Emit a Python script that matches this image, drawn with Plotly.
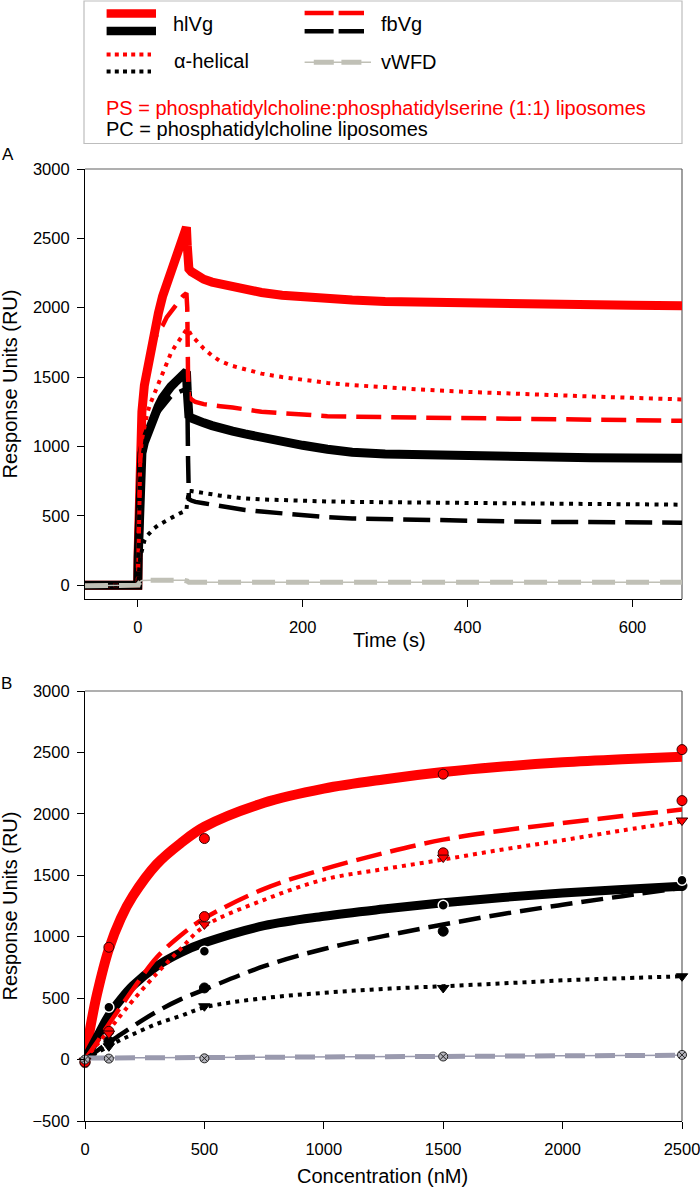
import plotly.graph_objects as go

# ---------------- Panel A : sensorgrams ----------------
time_s = [-64, -10, 0, 0.5, 1, 2, 3, 5, 8, 12, 16, 20, 25, 30, 35, 40, 45, 50, 55, 59,
          60, 61, 62, 65, 70, 80, 90, 100, 115, 130, 150, 175, 200, 230, 260, 300, 350,
          400, 450, 500, 550, 600, 660]

hlvg_ps_A = [0, 0, 0, 250, 450, 800, 1050, 1250, 1440, 1580, 1690, 1820, 1960, 2080, 2170,
             2240, 2310, 2390, 2480, 2580, 2450, 2300, 2280, 2260, 2235, 2205, 2185, 2170,
             2148, 2132, 2110, 2090, 2075, 2062, 2055, 2045, 2038, 2032, 2027, 2023, 2020,
             2017, 2014]
hlvg_pc_A = [0, 0, 0, 200, 400, 700, 850, 950, 1030, 1100, 1170, 1230, 1290, 1350, 1400,
             1430, 1460, 1490, 1515, 1540, 1400, 1240, 1220, 1205, 1190, 1170, 1150, 1130,
             1110, 1090, 1062, 1035, 1008, 980, 958, 945, 937, 930, 925, 921, 918, 916, 914]
fbvg_ps_A = [0, 0, 0, 200, 400, 700, 900, 1150, 1400, 1560, 1680, 1766, 1830, 1870, 1930,
             1970, 2010, 2050, 2085, 2105, 2000, 1500, 1360, 1340, 1320, 1305, 1295, 1290,
             1280, 1265, 1250, 1240, 1228, 1218, 1214, 1210, 1206, 1203, 1200, 1197, 1193,
             1189, 1185]
fbvg_pc_A = [0, 0, 0, 150, 350, 600, 750, 900, 1000, 1080, 1150, 1200, 1250, 1290, 1330,
             1360, 1380, 1395, 1405, 1410, 1400, 900, 620, 610, 600, 590, 580, 570, 553, 542,
             530, 515, 500, 490, 481, 475, 468, 463, 459, 456, 454, 452, 450]
alpha_ps_A = [0, 0, 0, 100, 300, 700, 900, 1050, 1150, 1250, 1320, 1380, 1450, 1530, 1610,
              1670, 1720, 1765, 1805, 1840, 1850, 1845, 1835, 1800, 1770, 1705, 1655, 1615,
              1580, 1555, 1525, 1500, 1480, 1458, 1442, 1425, 1408, 1393, 1380, 1370, 1360,
              1350, 1339]
alpha_pc_A = [0, 0, 0, 30, 80, 150, 200, 250, 320, 360, 390, 410, 433, 450, 470, 485, 505,
              515, 528, 541, 600, 670, 680, 678, 672, 664, 655, 645, 632, 625, 618, 612, 607,
              603, 600, 597, 594, 591, 589, 587, 585, 583, 580]
vwfd_A = [-5, -5, -5, 0, 10, 20, 28, 33, 35, 36, 36, 36, 36, 36, 36, 36, 36, 36, 36, 36,
          30, 24, 20, 20, 20, 20, 20, 20, 20, 20, 20, 20, 20, 20, 20, 20, 20, 20, 20, 20,
          20, 20, 20]

# ---------------- Panel B : binding curves ----------------
conc_fit = [0, 25, 50, 100, 150, 200, 300, 400, 500, 750, 1000, 1250, 1500, 1750, 2000, 2250, 2500]
hlvg_ps_fit = [0, 290, 530, 900, 1150, 1330, 1590, 1760, 1895, 2090, 2205, 2280, 2340, 2385, 2420, 2445, 2465]
fbvg_ps_fit = [0, 70, 140, 290, 430, 570, 830, 1010, 1150, 1390, 1550, 1680, 1790, 1865, 1925, 1982, 2035]
alpha_ps_fit = [0, 60, 120, 240, 360, 480, 700, 900, 1085, 1300, 1465, 1550, 1628, 1710, 1785, 1865, 1940]
hlvg_pc_fit = [0, 90, 180, 360, 490, 600, 760, 870, 950, 1090, 1167, 1225, 1276, 1320, 1355, 1385, 1411]
fbvg_pc_fit = [0, 35, 70, 140, 205, 270, 390, 490, 570, 760, 900, 1005, 1099, 1185, 1260, 1330, 1398]
alpha_pc_fit = [0, 28, 55, 110, 160, 205, 290, 355, 425, 500, 543, 575, 597, 620, 645, 662, 678]
vwfd_conc_fit = [0, 2500]
vwfd_fit = [12, 35]

conc_pts = [0, 100, 500, 1500, 2500]
hlvg_ps_pts = [-20, 914, 1799, 2323, 2523]
fbvg_ps_pts = [-20, 230, 1164, 1683, 2108]
alpha_ps_pts = [-10, 212, 1100, 1644, 1946]
hlvg_pc_pts = [-20, 426, 882, 1256, 1460]
fbvg_pc_pts = [-25, 149, 583, 1045, 1416]
alpha_pc_pts = [-10, 108, 434, 583, 678]
vwfd_pts = [0, 8, 10, 25, 38]

tick_A_x = [0, 200, 400, 600]
tick_A_y = [0, 500, 1000, 1500, 2000, 2500, 3000]
tick_B_x = [0, 500, 1000, 1500, 2000, 2500]
tick_B_y = [-500, 0, 500, 1000, 1500, 2000, 2500, 3000]

RED = "#ff0000"
BLACK = "#000000"
GRAY_A = "#c0c0b6"
GRAY_B = "#9a9aae"

W, H = 700, 1187
ML, MR = 85, 18
PW = W - ML - MR


def px2x(px):
    return (px - ML) / PW


def py2y(py):
    return 1 - py / H


fig = go.Figure()


def line(x, y, color, width, dash="solid", xa="x", ya="y", shape="linear"):
    fig.add_trace(go.Scatter(x=x, y=y, mode="lines", xaxis=xa, yaxis=ya,
                             line=dict(color=color, width=width, dash=dash, shape=shape),
                             cliponaxis=False, hoverinfo="skip"))


# Panel A
line(time_s, hlvg_ps_A, RED, 9)
line(time_s, hlvg_pc_A, BLACK, 9)
line(time_s, fbvg_ps_A, RED, 4.5, "25px,10px")
line(time_s, fbvg_pc_A, BLACK, 4.5, "27px,10px")
line(time_s, alpha_ps_A, RED, 4, "4px,5.5px")
line(time_s, alpha_pc_A, BLACK, 4, "4px,5.5px")
line(time_s, vwfd_A, GRAY_A, 1.5)
line(time_s, vwfd_A, GRAY_A, 5, "23px,11px")

# Panel B fits
line(conc_fit, hlvg_ps_fit, RED, 10, xa="x2", ya="y2", shape="spline")
line(conc_fit, hlvg_pc_fit, BLACK, 9, xa="x2", ya="y2", shape="spline")
line(conc_fit, fbvg_ps_fit, RED, 4.5, "26px,9px", "x2", "y2", "spline")
line(conc_fit, fbvg_pc_fit, BLACK, 4.5, "22px,9px", "x2", "y2", "spline")
line(conc_fit, alpha_ps_fit, RED, 4, "4px,5px", "x2", "y2", "spline")
line(conc_fit, alpha_pc_fit, BLACK, 4, "4px,5px", "x2", "y2", "spline")
line(vwfd_conc_fit, vwfd_fit, GRAY_B, 1.5, xa="x2", ya="y2")
line(vwfd_conc_fit, vwfd_fit, GRAY_B, 5, "20px,10px", "x2", "y2")


def pts(y, symbol, color, lcolor, size=10, lw=1):
    fig.add_trace(go.Scatter(x=conc_pts, y=y, mode="markers", xaxis="x2", yaxis="y2",
                             marker=dict(symbol=symbol, color=color, size=size,
                                         line=dict(color=lcolor, width=lw)),
                             cliponaxis=False, hoverinfo="skip"))


pts(fbvg_pc_pts, "circle", BLACK, BLACK)
pts(hlvg_pc_pts, "circle", BLACK, "white", 10, 1.5)
pts(alpha_pc_pts, "triangle-down", BLACK, BLACK)
pts(fbvg_ps_pts, "circle", RED, "#3a0000")
pts(alpha_ps_pts, "triangle-down", RED, "#3a0000")
pts(hlvg_ps_pts, "circle", RED, "#3a0000")
pts(vwfd_pts, "circle-x", "#b4b4bc", "#222222", 9, 1)

axis_common = dict(showgrid=False, zeroline=False, showline=True, linecolor="black",
                   linewidth=1.2, ticks="outside", ticklen=7, tickwidth=1.2,
                   tickcolor="black", tickfont=dict(size=16.5, color="black"),
                   automargin=False, ticklabeloverflow="allow")

fig.update_layout(
    width=W, height=H,
    margin=dict(l=ML, r=MR, t=0, b=0),
    paper_bgcolor="white", plot_bgcolor="rgba(0,0,0,0)",
    showlegend=False,
    font=dict(family="Liberation Sans, Arial, sans-serif", color="black"),
    xaxis=dict(domain=[0, 1], anchor="y", range=[-64, 660], tickvals=tick_A_x,
               ticklabelstandoff=6, **axis_common),
    yaxis=dict(domain=[py2y(599), py2y(169)], anchor="x", range=[-100, 3000],
               tickvals=tick_A_y, ticklabelstandoff=4, **axis_common),
    xaxis2=dict(domain=[0, 1], anchor="y2", range=[0, 2500], tickvals=tick_B_x,
                ticklabelstandoff=6, **axis_common),
    yaxis2=dict(domain=[py2y(1121), py2y(691)], anchor="x2", range=[-500, 3000],
                tickvals=tick_B_y, ticklabelstandoff=4, **axis_common),
)

shapes = []
FRAME = "#606060"
# top/right frame lines of the two panels
for top, bot in [(169, 599), (691, 1121)]:
    shapes.append(dict(type="line", xref="paper", yref="paper", x0=0, x1=1,
                       y0=py2y(top), y1=py2y(top), line=dict(color=FRAME, width=1.2),
                       layer="below"))
    shapes.append(dict(type="line", xref="paper", yref="paper", x0=1, x1=1,
                       y0=py2y(top), y1=py2y(bot), line=dict(color=FRAME, width=1.2),
                       layer="below"))

# legend box
shapes.append(dict(type="rect", xref="paper", yref="paper", x0=px2x(84), x1=px2x(682),
                   y0=py2y(143.5), y1=py2y(1), line=dict(color="#bdbdbd", width=1.2),
                   fillcolor="rgba(0,0,0,0)"))


def lshape(x0, x1, y, color, width, dash="solid"):
    shapes.append(dict(type="line", xref="paper", yref="paper", x0=px2x(x0), x1=px2x(x1),
                       y0=py2y(y), y1=py2y(y), line=dict(color=color, width=width, dash=dash)))


lshape(106.6, 156, 13.6, RED, 8.5)
lshape(106.6, 156, 31.1, BLACK, 8.5)
lshape(304.6, 364, 13.0, RED, 4.5, "29px,5px")
lshape(304.6, 364, 31.3, BLACK, 4.5, "29px,5px")
lshape(106.6, 151, 54.4, RED, 4, "4px,4.2px")
lshape(106.6, 151, 71.4, BLACK, 4, "4px,4.2px")
lshape(304.6, 371, 62.2, GRAY_A, 1.5)
lshape(313.8, 364, 62.2, GRAY_A, 5, "20px,7.6px")

fig.update_layout(shapes=shapes)

ann = []


def text(px, py, s, size=20, color="black", xanchor="left", angle=0):
    ann.append(dict(x=px2x(px), y=py2y(py), xref="paper", yref="paper", text=s,
                    showarrow=False, xanchor=xanchor, yanchor="middle",
                    textangle=angle, font=dict(size=size, color=color)))


text(171.4, 23.8, "hlVg")
text(378.6, 23.8, "fbVg")
text(172, 61.5, "α-helical")
text(378.6, 62, "vWFD")
text(104, 108.3, "PS = phosphatidylcholine:phosphatidylserine (1:1) liposomes", color=RED)
text(104, 129.3, "PC = phosphatidylcholine liposomes")
text(8, 154, "A", size=17, xanchor="center")
text(6, 683, "B", size=17, xanchor="center")
text(9.5, 384, "Response Units (RU)", xanchor="center", angle=-90)
text(9.5, 906, "Response Units (RU)", xanchor="center", angle=-90)
text(389, 640, "Time (s)", xanchor="center")
text(382, 1176, "Concentration (nM)", xanchor="center")

fig.update_layout(annotations=ann)

fig.write_html("out.html", config={"displayModeBar": False},
               post_script="document.body.style.margin='0';document.body.style.overflow='hidden';")
